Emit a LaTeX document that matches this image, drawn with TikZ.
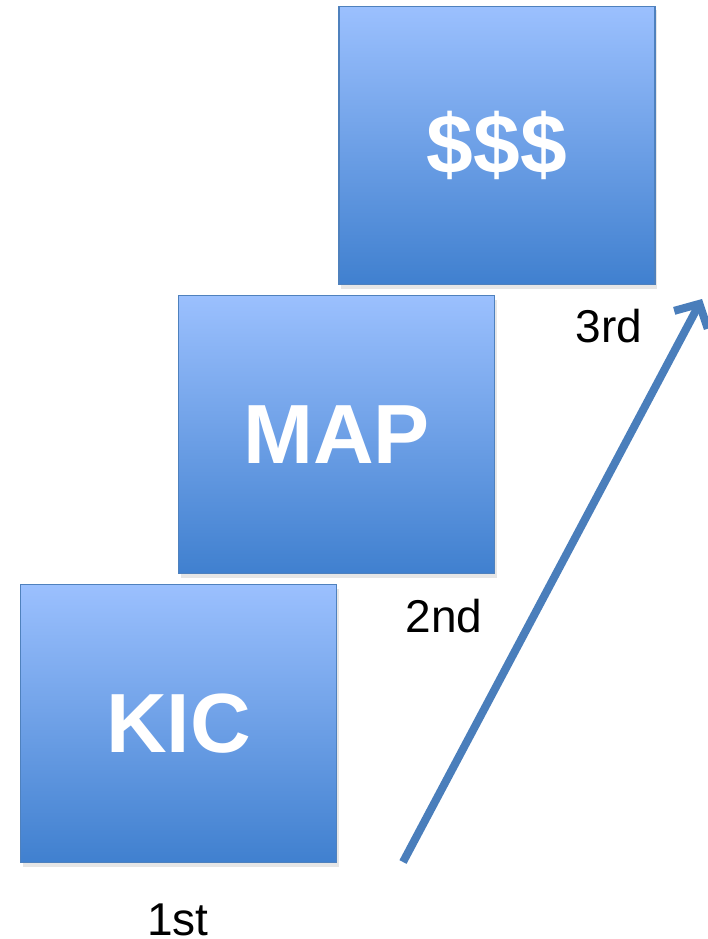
\documentclass[tikz,border=0pt]{standalone}
\usepackage{fontspec}
\setmainfont{Liberation Sans}
\usetikzlibrary{arrows.meta,shadows}
\definecolor{boxtop}{HTML}{9BC0FE}
\definecolor{boxbottom}{HTML}{4080CF}
\definecolor{boxline}{HTML}{4F81BD}
\definecolor{arrowblue}{HTML}{4A7EBB}
\begin{document}
\begin{tikzpicture}[x=1pt,y=-1pt,
        stepbox/.style={draw=boxline,line width=1.2pt,top color=boxtop,bottom color=boxbottom,
            minimum width=316pt,minimum height=278pt,inner sep=0pt,
            text=white,font=\fontsize{84}{84}\selectfont\bfseries,
            drop shadow={shadow xshift=2pt,shadow yshift=-4pt,opacity=0.2}},
        steplabel/.style={font=\fontsize{46}{46}\selectfont,anchor=base,inner sep=0pt}]
        \useasboundingbox(0,0)rectangle(708,939);
        \node[stepbox](kic)at(178.5,723.5){KIC};
        \node[stepbox](map)at(336.5,434.5){MAP};
        \node[stepbox](cash)at(497,145.5){\$\$\$};
        \node[steplabel](first)at(178,935){1st};
        \node[steplabel](second)at(444,632){2nd};
        \node[steplabel](third)at(609,342){3rd};
        \coordinate(start)at(403,862);
        \coordinate(goal)at(702,299);
        \draw[arrowblue,line width=8pt,-{Straight Barb[length=18pt,width=38pt,line width=8pt]}](start)--(goal);
    \end{tikzpicture}
\end{document}
